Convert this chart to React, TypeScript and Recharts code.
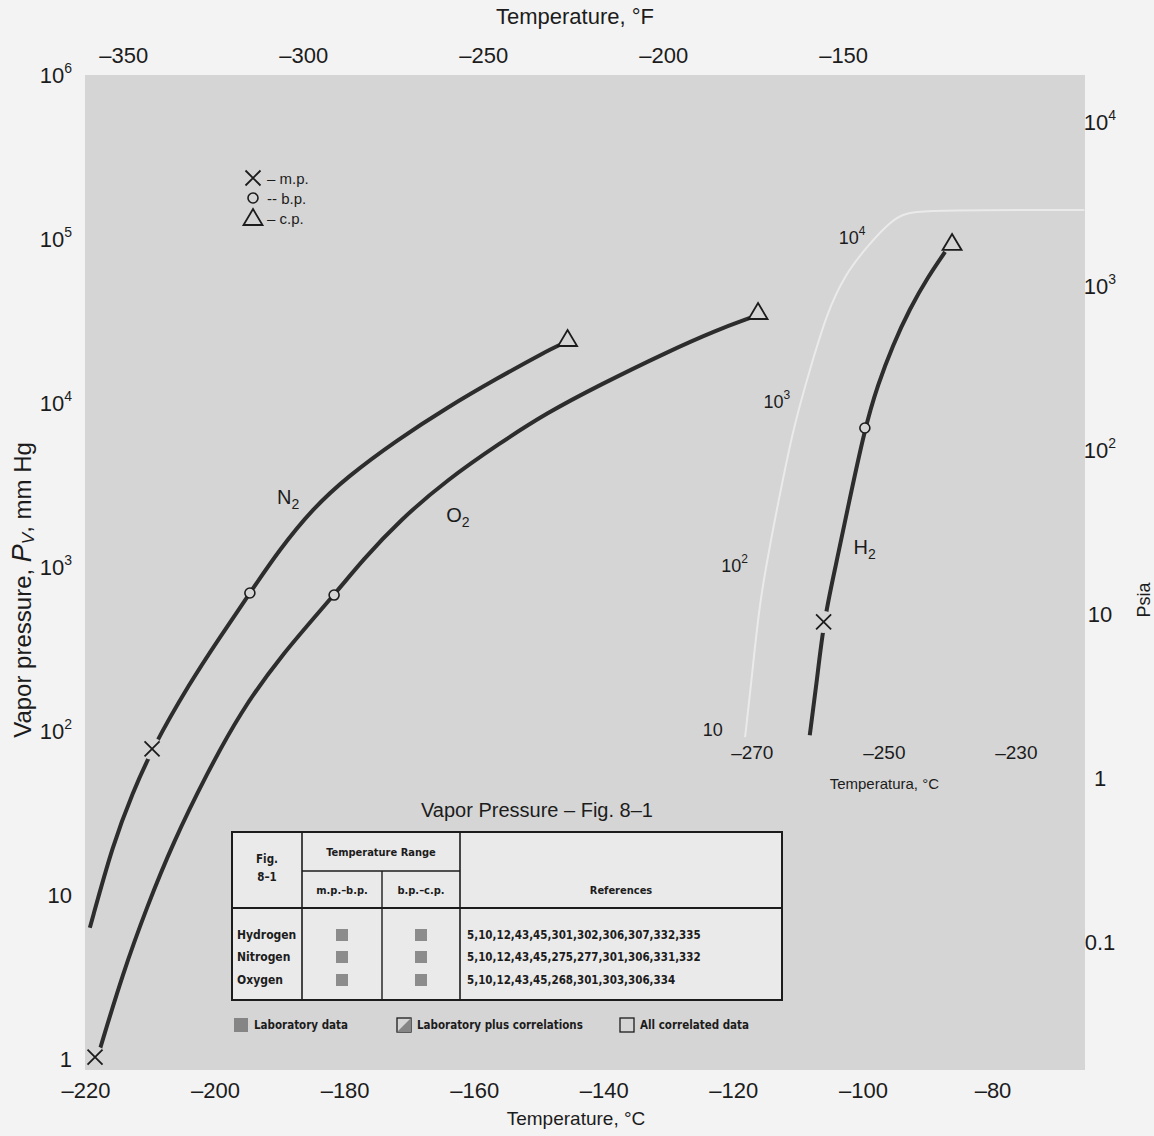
import React from 'react';
import { ComposedChart, Line, Scatter, XAxis, YAxis, CartesianGrid, ReferenceDot } from 'recharts';

const W = 1154;
const H = 1136;

const TICK_FONT = '"Liberation Sans", Arial, sans-serif';
const TEXT_FONT = '"Liberation Sans", Arial, sans-serif';
const TABLE_FONT = '"DejaVu Sans Condensed", "Liberation Sans Narrow", sans-serif';
const INK = '#1c1c1c';
const CURVE = '#2d2d2d';
const PLOT_BG = '#d5d5d5';
const PAGE_BG = '#f3f3f3';
const TABLE_BG = '#eaeaea';

// ---- axes ----
const MMHG_PER_PSI = 51.715;
const C_DOMAIN: [number, number] = [-220.15, -65.8];
const P_DOMAIN: [number, number] = [0.869, 1.014e6];
// the printed °F scale sits about 3.5 °F to the right of the exact conversion
const F_SHIFT = 3.5;
const F_DOMAIN: [number, number] = [C_DOMAIN[0] * 1.8 + 32 + F_SHIFT, C_DOMAIN[1] * 1.8 + 32 + F_SHIFT];
const PSIA_DOMAIN: [number, number] = [P_DOMAIN[0] / MMHG_PER_PSI, P_DOMAIN[1] / MMHG_PER_PSI];
const INSET_T_DOMAIN: [number, number] = [-371.1, -219.6];
const INSET_P_DOMAIN: [number, number] = [0.0845, 98600];

const C_TICKS = [-220, -200, -180, -160, -140, -120, -100, -80];
const F_TICKS = [-350, -300, -250, -200, -150];
const MMHG_TICKS = [1, 10, 100, 1e3, 1e4, 1e5, 1e6];
const PSIA_TICKS = [0.1, 1, 10, 100, 1000, 10000];
const INSET_T_TICKS = [-270, -250, -230];

// ---- curves (°C, mm Hg) ----
const N2_CURVE = [
  { t: -219.4, p: 6.4 }, { t: -215.8, p: 21 }, { t: -212.8, p: 42.5 }, { t: -209.8, p: 79 },
  { t: -204.0, p: 199 }, { t: -199.3, p: 380 }, { t: -194.7, p: 704 }, { t: -190.1, p: 1300 },
  { t: -185.0, p: 2300 }, { t: -179.7, p: 3590 }, { t: -172.0, p: 6030 }, { t: -164.3, p: 9500 },
  { t: -156.6, p: 14300 }, { t: -148.9, p: 21000 }, { t: -146.9, p: 22900 },
];
const O2_CURVE = [
  { t: -217.8, p: 1.18 }, { t: -214.3, p: 3.39 }, { t: -210.6, p: 8.57 }, { t: -206.6, p: 21 },
  { t: -201.3, p: 56.2 }, { t: -196.2, p: 131 }, { t: -190.1, p: 287 }, { t: -181.7, p: 684 },
  { t: -177.3, p: 1119 }, { t: -171.5, p: 1963 }, { t: -164.3, p: 3440 }, { t: -156.1, p: 5780 },
  { t: -148.9, p: 8810 }, { t: -140.7, p: 13060 }, { t: -130.3, p: 20750 }, { t: -122.6, p: 28260 },
  { t: -117.5, p: 33450 },
];
// H2 is drawn on the inset scale (°C, mm Hg)
const H2_CURVE = [
  { t: -261.3, p: 9.3 }, { t: -260.2, p: 20.2 }, { t: -259.2, p: 45.6 }, { t: -257.35, p: 101 },
  { t: -255.7, p: 210 }, { t: -252.95, p: 694 }, { t: -251.0, p: 1270 }, { t: -248.7, p: 2230 },
  { t: -246.1, p: 3740 }, { t: -243.4, p: 5780 }, { t: -240.8, p: 8220 },
];
const INSET_BOUNDARY = [
  { t: -271.1, p: 9.06 }, { t: -270.1, p: 20.2 }, { t: -268.9, p: 62 }, { t: -266.6, p: 191 },
  { t: -263.9, p: 676 }, { t: -261.3, p: 1567 }, { t: -258.7, p: 3490 }, { t: -256.0, p: 5950 },
  { t: -252.7, p: 8810 }, { t: -248.1, p: 14000 }, { t: -244.5, p: 14800 }, { t: -219.7, p: 14800 },
];

// melting, boiling, critical points
const N2_MP = [{ t: -209.8, p: 79 }];
const N2_BP = [{ t: -194.7, p: 704 }];
const N2_CP = [{ t: -146.9, p: 22900 }];
const O2_MP = [{ t: -218.6, p: 1.04 }];
const O2_BP = [{ t: -181.7, p: 684 }];
const O2_CP = [{ t: -117.5, p: 33450 }];
const H2_MP = [{ t: -259.2, p: 45.6 }];
const H2_BP = [{ t: -252.95, p: 694 }];
const H2_CP = [{ t: -240.8, p: 8220 }];

const CURVE_LABELS = [
  { t: -188.8, p: 2710, sym: 'N' },
  { t: -162.6, p: 2100, sym: 'O' },
  { t: -99.8, p: 1343, sym: 'H' },
];
const INSET_Y_LABELS = [
  { t: -276.0, p: 10 }, { t: -272.7, p: 100 }, { t: -266.3, p: 1000 }, { t: -254.9, p: 10000 },
];
const INSET_X_BASE = 10;
const INSET_TITLE = { t: -250, p: 4.75, text: 'Temperatura, °C' };

const LEGEND_ITEMS = [
  { kind: 'mp', text: '– m.p.' },
  { kind: 'bp', text: '-- b.p.' },
  { kind: 'cp', text: '– c.p.' },
];
const TABLE_ROWS = ['Hydrogen', 'Nitrogen', 'Oxygen'];
const TABLE_REFS = [
  '5,10,12,43,45,301,302,306,307,332,335',
  '5,10,12,43,45,275,277,301,306,331,332',
  '5,10,12,43,45,268,301,303,306,334',
];
const TABLE_LEGEND = ['Laboratory data', 'Laboratory plus correlations', 'All correlated data'];

const FP_HELPER = N2_CURVE.map((d) => ({ t: d.t * 1.8 + 32 + F_SHIFT, p: d.p / MMHG_PER_PSI }));

// ---- text helpers ----
function PowText({ x, y, v, anchor, size, supSize }: any) {
  const e = Math.round(Math.log10(v));
  const common = {
    x, y, textAnchor: anchor, dominantBaseline: 'central', fontSize: size,
    fontFamily: TICK_FONT, fill: INK,
  } as any;
  if (e >= 2) {
    return (
      <text {...common}>
        10<tspan dy={-size * 0.38} fontSize={supSize}>{e}</tspan>
      </text>
    );
  }
  const s = e === 1 ? '10' : e === 0 ? '1' : '0.1';
  return <text {...common}>{s}</text>;
}

const neg = (v: number) => (v < 0 ? '–' + Math.abs(v) : String(v));

const LeftTick = (props: any) => (
  <PowText x={72} y={props.y} v={props.payload.value} anchor="end" size={22} supSize={14} />
);
const RightTick = (props: any) => (
  <PowText x={1100} y={props.y} v={props.payload.value} anchor="middle" size={22} supSize={14} />
);
const BottomTick = (props: any) => (
  <text x={props.x} y={1090} textAnchor="middle" dominantBaseline="central" fontSize={22}
    fontFamily={TICK_FONT} fill={INK}>{neg(props.payload.value)}</text>
);
const TopTick = (props: any) => (
  <text x={props.x} y={55} textAnchor="middle" dominantBaseline="central" fontSize={22}
    fontFamily={TICK_FONT} fill={INK}>{neg(props.payload.value)}</text>
);

// ---- markers ----
function MpMark({ cx, cy, bg = true }: any) {
  return (
    <g>
      {bg && <circle cx={cx} cy={cy} r={11} fill={PLOT_BG} />}
      <path d={`M${cx - 7.5},${cy - 7.5}L${cx + 7.5},${cy + 7.5}M${cx + 7.5},${cy - 7.5}L${cx - 7.5},${cy + 7.5}`}
        stroke={INK} strokeWidth={1.8} fill="none" />
    </g>
  );
}
function BpMark({ cx, cy }: any) {
  return <circle cx={cx} cy={cy} r={5} fill={PLOT_BG} stroke={INK} strokeWidth={1.6} />;
}
function CpMark({ cx, cy, dx = 8, dy = -6 }: any) {
  const x = cx + dx;
  const y = cy + dy;
  return (
    <path d={`M${x - 9.5},${y + 7}L${x + 9.5},${y + 7}L${x},${y - 9}Z`} fill={PLOT_BG}
      stroke={INK} strokeWidth={1.8} strokeLinejoin="miter" />
  );
}

const Formula = ({ cx, cy, sym }: any) => (
  <text x={cx} y={cy} textAnchor="middle" dominantBaseline="central" fontSize={20}
    fontFamily={TEXT_FONT} fill={INK}>
    {sym}<tspan dy={7} fontSize={14}>2</tspan>
  </text>
);

function Overlay() {
  const tx = { fontFamily: TABLE_FONT, fontWeight: 700, fill: INK } as any;
  const rowY = [935, 957, 980];
  return (
    <svg width={W} height={H} style={{ position: 'absolute', left: 0, top: 0, pointerEvents: 'none' }}>
      {/* axis titles */}
      <text x={575} y={16} textAnchor="middle" dominantBaseline="central" fontSize={22} fontFamily={TEXT_FONT} fill={INK}>
        Temperature, °F
      </text>
      <text x={576} y={1118} textAnchor="middle" dominantBaseline="central" fontSize={19} fontFamily={TEXT_FONT} fill={INK}>
        Temperature, °C
      </text>
      <text transform="translate(22,590) rotate(-90)" textAnchor="middle" dominantBaseline="central"
        fontSize={24} fontFamily={TEXT_FONT} fill={INK}>
        Vapor pressure, <tspan fontStyle="italic" fontSize={27}>P</tspan>
        <tspan fontStyle="italic" fontSize={17} dy={6}>V</tspan>
        <tspan dy={-6}>, mm Hg</tspan>
      </text>
      <text transform="translate(1144,600) rotate(-90)" textAnchor="middle" dominantBaseline="central"
        fontSize={18} fontFamily={TEXT_FONT} fill={INK}>
        Psia
      </text>

      {/* symbol legend */}
      {LEGEND_ITEMS.map((it, i) => {
        const cy = 178 + i * 20;
        return (
          <g key={it.kind}>
            {it.kind === 'mp' && <MpMark cx={253} cy={cy} bg={false} />}
            {it.kind === 'bp' && <BpMark cx={253} cy={cy} />}
            {it.kind === 'cp' && <CpMark cx={253} cy={cy} dx={0} dy={0} />}
            <text x={267} y={cy} dominantBaseline="central" fontSize={15} fontFamily={TEXT_FONT} fill={INK}>
              {it.text}
            </text>
          </g>
        );
      })}

      {/* title */}
      <text x={537} y={810} textAnchor="middle" dominantBaseline="central" fontSize={20} fontFamily={TEXT_FONT} fill={INK}>
        Vapor Pressure – Fig. 8–1
      </text>

      {/* table */}
      <rect x={232} y={832} width={550} height={168} fill={TABLE_BG} stroke={INK} strokeWidth={2} />
      <line x1={302} y1={832} x2={302} y2={1000} stroke={INK} strokeWidth={1.6} />
      <line x1={460} y1={832} x2={460} y2={1000} stroke={INK} strokeWidth={1.6} />
      <line x1={382} y1={871} x2={382} y2={1000} stroke={INK} strokeWidth={1.4} />
      <line x1={302} y1={871} x2={460} y2={871} stroke={INK} strokeWidth={1.4} />
      <line x1={232} y1={908} x2={782} y2={908} stroke={INK} strokeWidth={1.8} />
      <text {...tx} x={267} y={859} textAnchor="middle" dominantBaseline="central" fontSize={11.5}>Fig.</text>
      <text {...tx} x={267} y={877} textAnchor="middle" dominantBaseline="central" fontSize={11.5}>8–1</text>
      <text {...tx} x={381} y={852} textAnchor="middle" dominantBaseline="central" fontSize={11}>Temperature Range</text>
      <text {...tx} x={342} y={890} textAnchor="middle" dominantBaseline="central" fontSize={11}>m.p.–b.p.</text>
      <text {...tx} x={421} y={890} textAnchor="middle" dominantBaseline="central" fontSize={11}>b.p.–c.p.</text>
      <text {...tx} x={621} y={890} textAnchor="middle" dominantBaseline="central" fontSize={11}>References</text>
      {TABLE_ROWS.map((name, i) => (
        <g key={name}>
          <text {...tx} x={237} y={rowY[i]} dominantBaseline="central" fontSize={12}>{name}</text>
          <rect x={336} y={rowY[i] - 6} width={12} height={12} fill="#8c8c8c" />
          <rect x={415} y={rowY[i] - 6} width={12} height={12} fill="#8c8c8c" />
          <text {...tx} x={467} y={rowY[i]} dominantBaseline="central" fontSize={11.5}>{TABLE_REFS[i]}</text>
        </g>
      ))}
      {/* table key */}
      <rect x={234} y={1018} width={14} height={14} fill="#858585" />
      <text {...tx} x={254} y={1025} dominantBaseline="central" fontSize={11.5}>{TABLE_LEGEND[0]}</text>
      <rect x={397} y={1018} width={14} height={14} fill="none" stroke={INK} strokeWidth={1.3} />
      <path d="M397,1032L411,1018L411,1032Z" fill="#858585" />
      <text {...tx} x={417} y={1025} dominantBaseline="central" fontSize={11.5}>{TABLE_LEGEND[1]}</text>
      <rect x={620} y={1018} width={14} height={14} fill="none" stroke={INK} strokeWidth={1.3} />
      <text {...tx} x={640} y={1025} dominantBaseline="central" fontSize={11.5}>{TABLE_LEGEND[2]}</text>
    </svg>
  );
}

export default function App() {
  const dotNone = false;
  return (
    <div style={{ position: 'absolute', left: 0, top: 0, width: W, height: H, background: PAGE_BG, overflow: 'hidden' }}>
      <ComposedChart width={W} height={H} margin={{ top: 35, right: 9, bottom: 26, left: 25 }}>
        <CartesianGrid xAxisId="c" yAxisId="mm" fill={PLOT_BG} horizontal={false} vertical={false} stroke="none" />
        <XAxis xAxisId="c" dataKey="t" type="number" domain={C_DOMAIN} allowDataOverflow ticks={C_TICKS}
          interval={0} orientation="bottom" height={40} axisLine={false} tickLine={false} tickSize={0}
          tickMargin={0} tick={<BottomTick />} />
        <XAxis xAxisId="f" dataKey="t" type="number" domain={F_DOMAIN} allowDataOverflow ticks={F_TICKS}
          interval={0} orientation="top" height={40} axisLine={false} tickLine={false} tickSize={0}
          tickMargin={0} tick={<TopTick />} />
        <XAxis xAxisId="hx" dataKey="t" type="number" domain={INSET_T_DOMAIN} allowDataOverflow hide />
        <YAxis yAxisId="mm" dataKey="p" type="number" scale="log" domain={P_DOMAIN} allowDataOverflow
          ticks={MMHG_TICKS} interval={0} orientation="left" width={60} axisLine={false} tickLine={false}
          tickSize={0} tickMargin={0} tick={<LeftTick />} />
        <YAxis yAxisId="psia" dataKey="p" type="number" scale="log" domain={PSIA_DOMAIN} allowDataOverflow
          ticks={PSIA_TICKS} interval={0} orientation="right" width={60} axisLine={false} tickLine={false}
          tickSize={0} tickMargin={0} tick={<RightTick />} />
        <YAxis yAxisId="hy" dataKey="p" type="number" scale="log" domain={INSET_P_DOMAIN} allowDataOverflow hide />

        <Line xAxisId="f" yAxisId="psia" data={FP_HELPER} dataKey="p" stroke="none" dot={dotNone}
          isAnimationActive={false} legendType="none" />

        <Line xAxisId="hx" yAxisId="hy" data={INSET_BOUNDARY} dataKey="p" type="basis" stroke="#ededed"
          strokeOpacity={0.85} strokeWidth={2} dot={dotNone} isAnimationActive={false} />

        <Line xAxisId="c" yAxisId="mm" data={N2_CURVE} dataKey="p" type="basis" stroke={CURVE}
          strokeWidth={4} dot={dotNone} isAnimationActive={false} />
        <Line xAxisId="c" yAxisId="mm" data={O2_CURVE} dataKey="p" type="basis" stroke={CURVE}
          strokeWidth={4} dot={dotNone} isAnimationActive={false} />
        <Line xAxisId="hx" yAxisId="hy" data={H2_CURVE} dataKey="p" type="basis" stroke={CURVE}
          strokeWidth={4} dot={dotNone} isAnimationActive={false} />

        <Scatter xAxisId="c" yAxisId="mm" data={N2_MP} dataKey="p" shape={(p: any) => <MpMark cx={p.cx} cy={p.cy} />} isAnimationActive={false} />
        <Scatter xAxisId="c" yAxisId="mm" data={O2_MP} dataKey="p" shape={(p: any) => <MpMark cx={p.cx} cy={p.cy} />} isAnimationActive={false} />
        <Scatter xAxisId="hx" yAxisId="hy" data={H2_MP} dataKey="p" shape={(p: any) => <MpMark cx={p.cx} cy={p.cy} />} isAnimationActive={false} />
        <Scatter xAxisId="c" yAxisId="mm" data={N2_BP} dataKey="p" shape={(p: any) => <BpMark cx={p.cx} cy={p.cy} />} isAnimationActive={false} />
        <Scatter xAxisId="c" yAxisId="mm" data={O2_BP} dataKey="p" shape={(p: any) => <BpMark cx={p.cx} cy={p.cy} />} isAnimationActive={false} />
        <Scatter xAxisId="hx" yAxisId="hy" data={H2_BP} dataKey="p" shape={(p: any) => <BpMark cx={p.cx} cy={p.cy} />} isAnimationActive={false} />
        <Scatter xAxisId="c" yAxisId="mm" data={N2_CP} dataKey="p" shape={(p: any) => <CpMark cx={p.cx} cy={p.cy} />} isAnimationActive={false} />
        <Scatter xAxisId="c" yAxisId="mm" data={O2_CP} dataKey="p" shape={(p: any) => <CpMark cx={p.cx} cy={p.cy} />} isAnimationActive={false} />
        <Scatter xAxisId="hx" yAxisId="hy" data={H2_CP} dataKey="p" shape={(p: any) => <CpMark cx={p.cx} cy={p.cy} dx={7} dy={-9} />} isAnimationActive={false} />

        {CURVE_LABELS.map((l) => (
          <ReferenceDot key={l.sym} xAxisId="c" yAxisId="mm" x={l.t} y={l.p} r={0} ifOverflow="visible"
            shape={(p: any) => <Formula cx={p.cx} cy={p.cy} sym={l.sym} />} />
        ))}
        {INSET_Y_LABELS.map((l) => (
          <ReferenceDot key={'iy' + l.p} xAxisId="hx" yAxisId="hy" x={l.t} y={l.p} r={0} ifOverflow="visible"
            shape={(p: any) => <PowText x={p.cx} y={p.cy} v={l.p} anchor="middle" size={18} supSize={12} />} />
        ))}
        {INSET_T_TICKS.map((t) => (
          <ReferenceDot key={'ix' + t} xAxisId="hx" yAxisId="hy" x={t} y={INSET_X_BASE} r={0} ifOverflow="visible"
            shape={(p: any) => (
              <text x={p.cx} y={p.cy + 22} textAnchor="middle" dominantBaseline="central" fontSize={19}
                fontFamily={TICK_FONT} fill={INK}>{neg(t)}</text>
            )} />
        ))}
        <ReferenceDot xAxisId="hx" yAxisId="hy" x={INSET_TITLE.t} y={INSET_TITLE.p} r={0} ifOverflow="visible"
          shape={(p: any) => (
            <text x={p.cx} y={p.cy} textAnchor="middle" dominantBaseline="central" fontSize={15}
              fontFamily={TICK_FONT} fill={INK}>{INSET_TITLE.text}</text>
          )} />
      </ComposedChart>
      <Overlay />
    </div>
  );
}
